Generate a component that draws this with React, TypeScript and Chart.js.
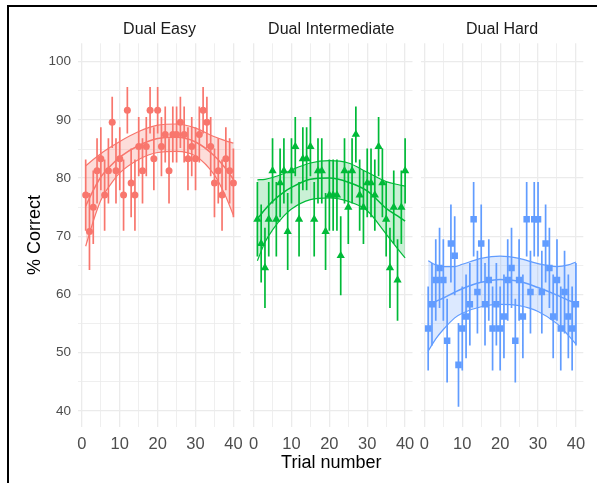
import React, { useEffect, useRef } from "react";
import { Chart, registerables } from "chart.js";

Chart.register(...registerables);

// ---------- data ----------
const trials = [1, 2, 3, 4, 5, 6, 7, 8, 9, 10, 11, 12, 13, 14, 15, 16, 17, 18, 19, 20, 21, 22, 23, 24, 25, 26, 27, 28, 29, 30, 31, 32, 33, 34, 35, 36, 37, 38, 39, 40];

const panelTitles = ["Dual Easy", "Dual Intermediate", "Dual Hard"];

const easyPct = [77.08, 70.83, 75, 81.25, 83.33, 77.08, 81.25, 89.58, 81.25, 83.33, 77.08, 91.67, 79.17, 77.08, 85.42, 81.25, 85.42, 91.67, 83.33, 91.67, 85.42, 87.5, 81.25, 87.5, 87.5, 89.58, 87.5, 83.33, 85.42, 83.33, 87.5, 91.67, 89.58, 85.42, 79.17, 81.25, 77.08, 83.33, 81.25, 79.17];
const easyErr = [6.1, 6.6, 6.3, 5.6, 5.4, 6.1, 5.6, 4.4, 5.6, 5.4, 6.1, 4.0, 5.9, 6.1, 5.1, 5.6, 5.1, 4.0, 5.4, 4.0, 5.1, 4.8, 5.6, 4.8, 4.8, 4.4, 4.8, 5.4, 5.1, 5.4, 4.8, 4.0, 4.4, 5.1, 5.9, 5.6, 6.1, 5.4, 5.6, 5.9];

const interPct = [72.92, 68.75, 64.58, 72.92, 81.25, 72.92, 79.17, 81.25, 70.83, 81.25, 85.42, 72.92, 83.33, 83.33, 85.42, 72.92, 81.25, 81.25, 70.83, 77.08, 77.08, 77.08, 66.67, 81.25, 75, 81.25, 87.5, 77.08, 75, 79.17, 79.17, 77.08, 85.42, 79.17, 72.92, 64.58, 75, 62.5, 75, 81.25];
const interErr = [6.4, 6.7, 6.9, 6.4, 5.6, 6.4, 5.9, 5.6, 6.6, 5.6, 5.1, 6.4, 5.4, 5.4, 5.1, 6.4, 5.6, 5.6, 6.6, 6.1, 6.1, 6.1, 6.8, 5.6, 6.3, 5.6, 4.8, 6.1, 6.3, 5.9, 5.9, 6.1, 5.1, 5.9, 6.4, 6.9, 6.3, 7.0, 6.3, 5.6];

const hardPct = [54.17, 58.33, 62.5, 64.58, 62.5, 52.08, 68.75, 66.67, 47.92, 54.17, 56.25, 58.33, 72.92, 60.42, 68.75, 58.33, 62.5, 54.17, 58.33, 54.17, 56.25, 62.5, 64.58, 52.08, 62.5, 56.25, 72.92, 60.42, 72.92, 72.92, 60.42, 68.75, 64.58, 56.25, 62.5, 54.17, 60.42, 56.25, 54.17, 58.33];
const hardErr = [7.2, 7.1, 7.0, 6.9, 7.0, 7.2, 6.7, 6.8, 7.2, 7.2, 7.2, 7.1, 6.4, 7.1, 6.7, 7.1, 7.0, 7.2, 7.1, 7.2, 7.2, 7.0, 6.9, 7.2, 7.0, 7.2, 6.4, 7.1, 6.4, 6.4, 7.1, 6.7, 6.9, 7.2, 7.0, 7.2, 7.1, 7.2, 7.2, 7.1];

// smoothed fit at these trials
const fitTrials = [1, 3, 5, 8, 10, 15, 20, 25, 30, 35, 38, 40];
const easyFit = [75.2, 77.9, 80.2, 82.4, 83.6, 85.6, 86.8, 87.0, 86.2, 83.8, 81.6, 79.8];
const easyFitUpper = [82.1, 83.2, 84.2, 85.5, 86.3, 88.0, 89.1, 89.3, 88.6, 87.1, 86.4, 86.0];
const easyFitLower = [68.3, 72.6, 76.2, 79.3, 80.9, 83.2, 84.4, 84.6, 83.8, 80.5, 76.8, 73.6];

const interFit = [73.0, 74.6, 76.0, 77.6, 78.4, 79.8, 80.0, 79.3, 77.8, 74.8, 73.5, 72.6];
const interFitUpper = [79.7, 79.8, 80.1, 80.8, 81.4, 82.6, 83.0, 82.6, 81.0, 79.4, 78.9, 78.6];
const interFitLower = [65.8, 69.0, 71.1, 73.5, 74.7, 76.3, 76.6, 76.0, 74.4, 70.4, 67.9, 66.3];

const hardFit = [58.1, 58.8, 59.4, 60.4, 61.0, 62.1, 62.6, 62.3, 61.2, 59.9, 59.0, 58.5];
const hardFitUpper = [65.8, 65.1, 64.8, 64.8, 65.2, 66.2, 66.6, 66.2, 65.3, 64.8, 65.1, 65.6];
const hardFitLower = [50.3, 52.4, 54.0, 56.0, 56.8, 57.9, 58.3, 58.1, 57.1, 55.0, 53.0, 51.5];

const xTickValues = [0, 5, 10, 15, 20, 25, 30, 35, 40];
const yTickValues = [40, 45, 50, 55, 60, 65, 70, 75, 80, 85, 90, 95, 100];

// ---------- styling ----------
const FONT = "'Liberation Sans', Arial, Helvetica, sans-serif";
const colors = ["#F8766D", "#00BA38", "#619CFF"];
const fills = ["rgba(248,118,109,0.25)", "rgba(0,186,56,0.21)", "rgba(97,156,255,0.22)"];
const pointStyles = ["circle", "triangle", "rect"];
const pointRadii = [3.5, 4.8, 4.6];

const panels = [
  { pct: easyPct, err: easyErr, fit: easyFit, up: easyFitUpper, lo: easyFitLower },
  { pct: interPct, err: interErr, fit: interFit, up: interFitUpper, lo: interFitLower },
  { pct: hardPct, err: hardErr, fit: hardFit, up: hardFitUpper, lo: hardFitLower },
];

// geometry: canvas left / width, chart area left / width
const canvasLeft = [0, 246, 418];
const canvasWidth = [246, 172, 179];
const areaLeft = [78.3, 250, 420.8];
const areaWidth = 162.5;
const H = 483;

function zeroPadding(s: any) {
  s.paddingLeft = 0;
  s.paddingRight = 0;
  s.paddingTop = 0;
  s.paddingBottom = 0;
}

function buildConfig(i: number): any {
  const p = panels[i];
  const color = colors[i];
  const errData: any[] = [];
  trials.forEach((t, k) => {
    errData.push({ x: t, y: p.pct[k] - p.err[k] });
    errData.push({ x: t, y: p.pct[k] + p.err[k] });
    errData.push({ x: t, y: null });
  });
  const pts = trials.map((t, k) => ({ x: t, y: p.pct[k] }));
  const fitC = fitTrials.map((t, k) => ({ x: t, y: p.fit[k] }));
  const fitU = fitTrials.map((t, k) => ({ x: t, y: p.up[k] }));
  const fitL = fitTrials.map((t, k) => ({ x: t, y: p.lo[k] }));

  const yAxisWidth = i === 0 ? areaLeft[0] - canvasLeft[0] : 0;
  const padLeft = i === 0 ? 0 : areaLeft[i] - canvasLeft[i];
  const padRight = canvasLeft[i] + canvasWidth[i] - (areaLeft[i] + areaWidth);

  const gridWidth = (ctx: any) => (ctx.tick && ctx.tick.value % 10 === 0 ? 1.3 : 0.8);

  return {
    type: "scatter",
    data: {
      datasets: [
        {
          type: "line",
          data: fitC,
          borderColor: color,
          borderWidth: 1.5,
          pointRadius: 0,
          cubicInterpolationMode: "monotone",
          fill: false,
          order: 0,
        },
        {
          type: "line",
          data: fitU,
          borderColor: color,
          borderWidth: 1.2,
          pointRadius: 0,
          cubicInterpolationMode: "monotone",
          backgroundColor: fills[i],
          fill: "+1",
          order: 1,
        },
        {
          type: "line",
          data: fitL,
          borderColor: color,
          borderWidth: 1.2,
          pointRadius: 0,
          cubicInterpolationMode: "monotone",
          fill: false,
          order: 2,
        },
        {
          type: "scatter",
          data: pts,
          pointStyle: pointStyles[i],
          pointRadius: pointRadii[i],
          pointBackgroundColor: color,
          pointBorderWidth: 0,
          backgroundColor: color,
          borderWidth: 0,
          order: 3,
        },
        {
          type: "line",
          data: errData,
          borderColor: color,
          borderWidth: 1.7,
          pointRadius: 0,
          spanGaps: false,
          fill: false,
          order: 4,
        },
      ],
    },
    options: {
      animation: false,
      responsive: false,
      events: [],
      layout: {
        autoPadding: false,
        padding: { left: padLeft, right: padRight, top: 0, bottom: 0 },
      },
      plugins: {
        legend: { display: false },
        tooltip: { enabled: false },
        filler: { drawTime: "beforeDatasetsDraw", propagate: false },
        title: {
          display: true,
          text: panelTitles[i],
          fullSize: false,
          color: "#1a1a1a",
          font: { family: FONT, size: 16, weight: "normal" },
          padding: { top: 19.8, bottom: 4.3 },
        },
      },
      scales: {
        x: {
          type: "linear",
          min: -0.95,
          max: 41.95,
          offset: false,
          border: { display: false },
          grid: { color: "#ebebeb", lineWidth: gridWidth, drawTicks: false },
          ticks: {
            color: "#4d4d4d",
            font: { family: FONT, size: 16.5 },
            padding: 8.2,
            autoSkip: false,
            maxRotation: 0,
            callback: (v: any) => (Number(v) % 10 === 0 ? String(v) : ""),
          },
          afterBuildTicks: (s: any) => {
            s.ticks = xTickValues.map((v) => ({ value: v }));
          },
          afterFit: (s: any) => {
            s.height = 56.3;
            zeroPadding(s);
          },
          title:
            i === 1
              ? {
                  display: true,
                  text: "Trial number",
                  color: "#000000",
                  font: { family: FONT, size: 18 },
                  padding: { top: 0, bottom: 9.4 },
                }
              : { display: false },
        },
        y: {
          type: "linear",
          min: 37.3,
          max: 103.16,
          border: { display: false },
          grid: { color: "#ebebeb", lineWidth: gridWidth, drawTicks: false },
          ticks: {
            display: i === 0,
            color: "#4d4d4d",
            font: { family: FONT, size: 13.5 },
            padding: 7.3,
            autoSkip: false,
            callback: (v: any) => (Number(v) % 10 === 0 ? String(v) : ""),
          },
          afterBuildTicks: (s: any) => {
            s.ticks = yTickValues.map((v) => ({ value: v }));
          },
          afterFit: (s: any) => {
            s.width = yAxisWidth;
            zeroPadding(s);
          },
          title:
            i === 0
              ? {
                  display: true,
                  text: "% Correct",
                  color: "#000000",
                  font: { family: FONT, size: 18 },
                  padding: { top: 24.1, bottom: 0 },
                }
              : { display: false },
        },
      },
    },
  };
}

function Facet({ index }: { index: number }) {
  const ref = useRef<HTMLCanvasElement | null>(null);
  useEffect(() => {
    if (!ref.current) return;
    const chart = new Chart(ref.current, buildConfig(index));
    return () => chart.destroy();
  }, [index]);
  return (
    <canvas
      ref={ref}
      width={canvasWidth[index]}
      height={H}
      style={{
        position: "absolute",
        left: canvasLeft[index],
        top: 0,
        width: canvasWidth[index],
        height: H,
      }}
    />
  );
}

export default function App() {
  return (
    <div
      style={{
        position: "absolute",
        left: 0,
        top: 0,
        width: 597,
        height: H,
        background: "#ffffff",
        overflow: "hidden",
      }}
    >
      <Facet index={0} />
      <Facet index={1} />
      <Facet index={2} />
      <div
        style={{
          position: "absolute",
          left: 7,
          top: 5,
          width: 600,
          height: 500,
          borderTop: "2px solid #000",
          borderLeft: "2px solid #000",
          boxSizing: "border-box",
          pointerEvents: "none",
        }}
      />
    </div>
  );
}
